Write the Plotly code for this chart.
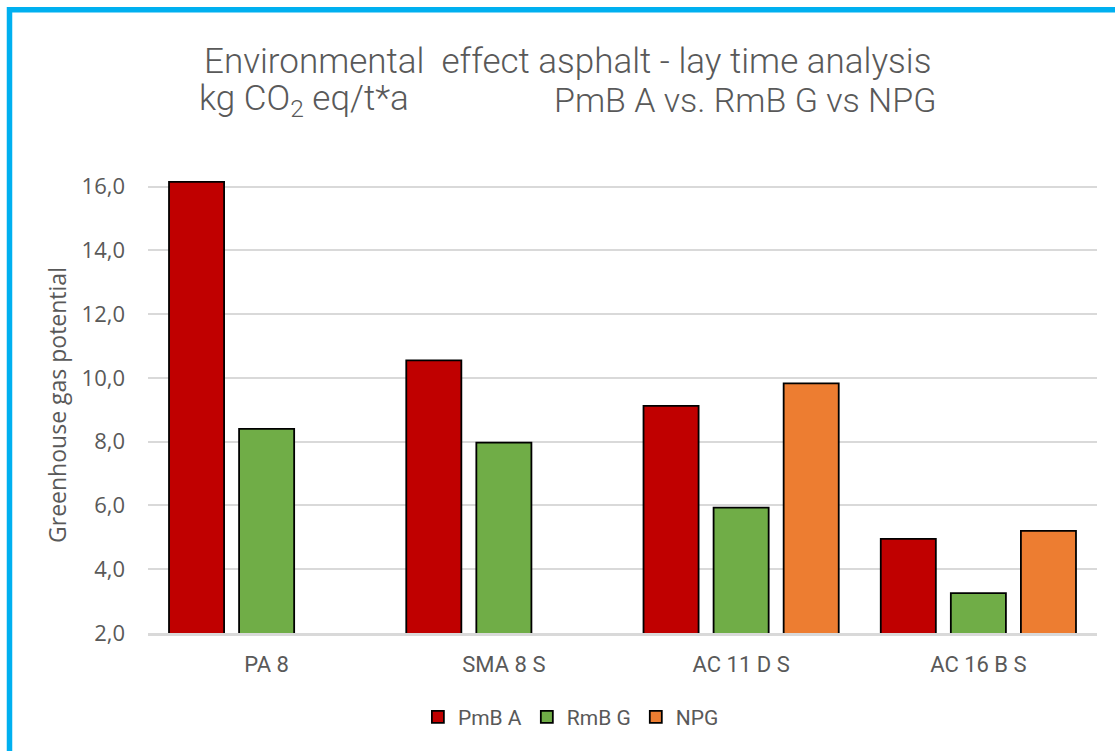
import plotly.graph_objects as go

categories = ["PA 8", "SMA 8 S", "AC 11 D S", "AC 16 B S"]
pmb_a = [16.15, 10.55, 9.12, 4.95]
rmb_g = [8.40, 7.97, 5.93, 3.25]
npg = [None, None, 9.83, 5.20]
series_names = ["PmB A", "RmB G", "NPG"]
series_colors = ["#C00000", "#70AD47", "#ED7D31"]
tick_vals = [2, 4, 6, 8, 10, 12, 14, 16]
tick_text = ["2,0", "4,0", "6,0", "8,0", "10,0", "12,0", "14,0", "16,0"]

W, H = 1115, 751
L, R, T, B = 148, 18, 177, 118
TITLE_FONT = "Roboto, Liberation Sans, sans-serif"
LABEL_FONT = "Roboto, Liberation Sans, sans-serif"
BODY_FONT = "Open Sans, Noto Sans, sans-serif"
GREY = "#595959"


def px_x(px):
    return (px - L) / (W - L - R)


def px_y(py):
    return (H - B - py) / (H - B - T)


fig = go.Figure()
for name, vals, col in zip(series_names, [pmb_a, rmb_g, npg], series_colors):
    fig.add_trace(go.Bar(
        x=categories, y=vals, name=name,
        marker=dict(color=col, line=dict(color="#000000", width=1.8)),
    ))

fig.update_layout(
    width=W, height=H,
    margin=dict(l=L, r=R, t=T, b=B),
    paper_bgcolor="white", plot_bgcolor="white",
    barmode="group", bargap=0.114, bargroupgap=0.214,
    showlegend=True,
    legend=dict(
        orientation="h", xref="container", yref="container",
        x=0.512, xanchor="center", y=0.045, yanchor="middle",
        font=dict(family=LABEL_FONT, size=21, color=GREY),
        itemwidth=30, traceorder="normal",
    ),
    xaxis=dict(
        showgrid=False, showline=True, linecolor="#D9D9D9", linewidth=2.5,
        ticks="", tickfont=dict(family=LABEL_FONT, size=22, color=GREY),
        ticklabelstandoff=10,
    ),
    yaxis=dict(
        range=[2, 16.3], tickvals=tick_vals, ticktext=tick_text,
        showgrid=True, gridcolor="#D9D9D9", gridwidth=1.5,
        zeroline=False, showline=False, ticks="",
        ticklabelstandoff=22,
        tickfont=dict(family=BODY_FONT, size=22, color=GREY),
        title=dict(text="Greenhouse gas potential", standoff=8,
                   font=dict(family=BODY_FONT, size=23, color=GREY)),
    ),
)

fig.add_annotation(
    text="Environmental  effect asphalt - lay time analysis",
    xref="paper", yref="paper", x=px_x(567), y=px_y(62),
    xanchor="center", yanchor="middle", showarrow=False,
    font=dict(family=TITLE_FONT, size=35, color=GREY, weight=300),
)
fig.add_annotation(
    text="kg CO<sub>2</sub> eq/t*a",
    xref="paper", yref="paper", x=px_x(197), y=px_y(100),
    xanchor="left", yanchor="middle", showarrow=False,
    font=dict(family=TITLE_FONT, size=35, color=GREY, weight=300),
)
fig.add_annotation(
    text="PmB A vs. RmB G vs NPG",
    xref="paper", yref="paper", x=px_x(938), y=px_y(100),
    xanchor="right", yanchor="middle", showarrow=False,
    font=dict(family=TITLE_FONT, size=34, color=GREY, weight=300),
)

# Blue frame (top and left edges)
fig.add_shape(type="line", xref="paper", yref="paper",
              x0=px_x(7), x1=px_x(W), y0=px_y(9.8), y1=px_y(9.8),
              line=dict(color="#00B0F0", width=5.5))
fig.add_shape(type="line", xref="paper", yref="paper",
              x0=px_x(9.5), x1=px_x(9.5), y0=px_y(7), y1=px_y(H),
              line=dict(color="#00B0F0", width=5.5))

fig.write_html("out.html")
